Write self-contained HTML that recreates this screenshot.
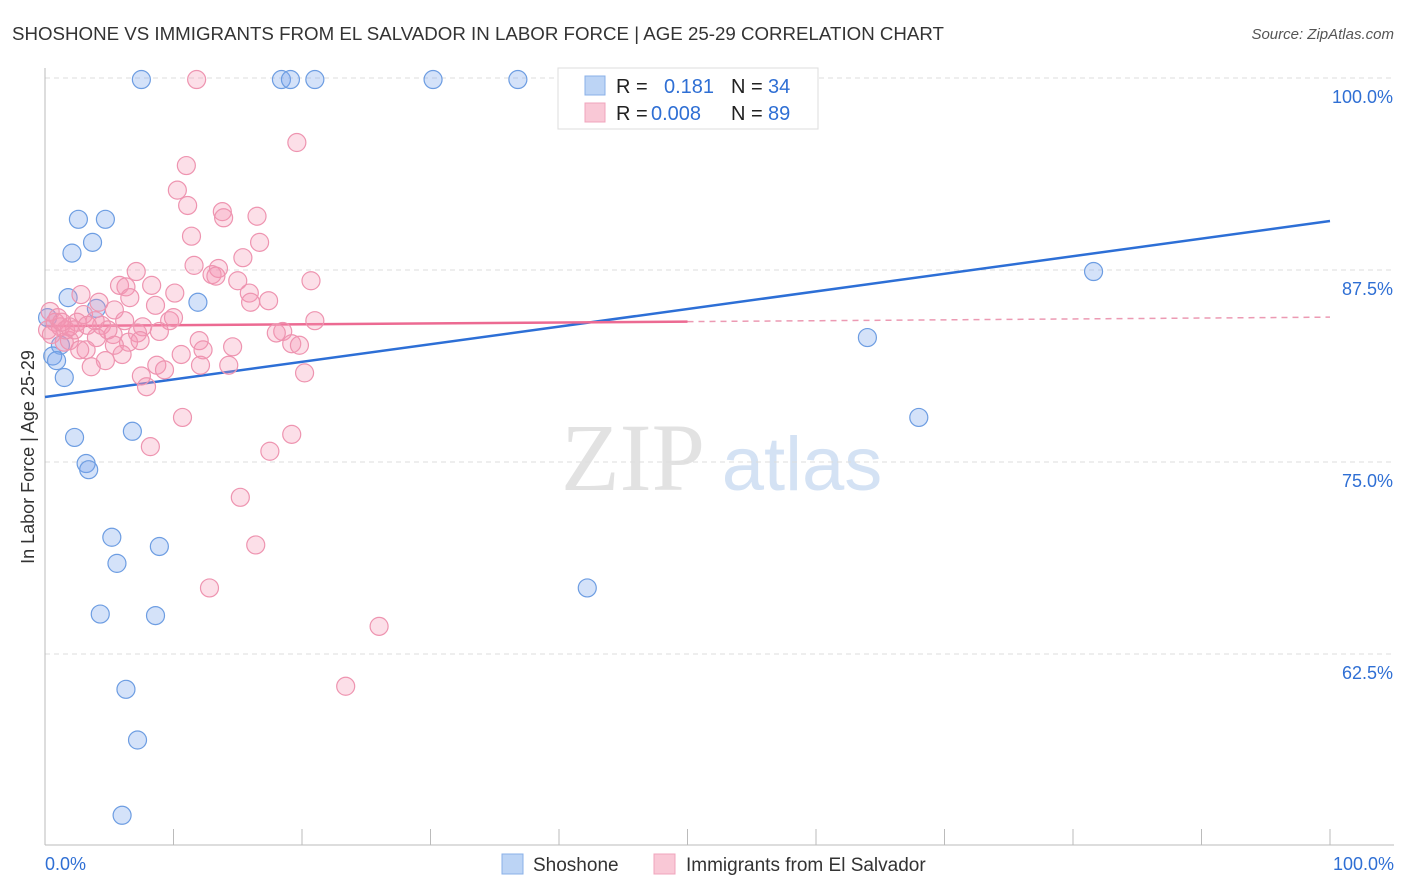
<!DOCTYPE html>
<html><head><meta charset="utf-8"><style>
body{margin:0;background:#fff;font-family:"Liberation Sans",sans-serif}
#wrap{position:relative;width:1406px;height:892px;overflow:hidden}
</style></head><body>
<div id="wrap">
<svg id="svg" width="1406" height="892" xmlns="http://www.w3.org/2000/svg">
<text x="12" y="40" font-size="18" fill="#333" textLength="932" lengthAdjust="spacingAndGlyphs">SHOSHONE VS IMMIGRANTS FROM EL SALVADOR IN LABOR FORCE | AGE 25-29 CORRELATION CHART</text>
<text x="1394" y="39" font-size="15" fill="#555" font-style="italic" text-anchor="end">Source: ZipAtlas.com</text>
<text transform="translate(34,457) rotate(-90)" font-size="18" fill="#333" text-anchor="middle">In Labor Force | Age 25-29</text>
<g><text x="633" y="490" font-size="96" font-family="Liberation Serif,serif" fill="#e2e2e2" text-anchor="middle">ZIP</text><text x="802" y="490" font-size="76" fill="#d4e2f4" text-anchor="middle">atlas</text></g>
<g id="grid"></g><g id="axes"></g><g id="trend"></g><g id="pts"></g>
<g>
<rect x="558" y="68" width="260" height="61" fill="#fff" stroke="#ddd"/>
<rect x="585" y="76" width="20" height="19" fill="#bcd4f5" stroke="#8ab0e8"/>
<rect x="585" y="103" width="20" height="19" fill="#f9c8d6" stroke="#f0a4bc"/>
<text x="616" y="93" font-size="20" fill="#222">R = </text><text x="664" y="93" font-size="20" fill="#2f6fd4">0.181</text>
<text x="731" y="93" font-size="20" fill="#222">N = </text><text x="768" y="93" font-size="20" fill="#2f6fd4">34</text>
<text x="616" y="120" font-size="20" fill="#222">R = </text><text x="651" y="120" font-size="20" fill="#2f6fd4">0.008</text>
<text x="731" y="120" font-size="20" fill="#222">N = </text><text x="768" y="120" font-size="20" fill="#2f6fd4">89</text>
</g>
<g>
<rect x="502" y="854" width="21" height="20" fill="#bcd4f5" stroke="#8ab0e8"/>
<text x="533" y="871" font-size="19" fill="#333">Shoshone</text>
<rect x="654" y="854" width="21" height="20" fill="#f9c8d6" stroke="#f0a4bc"/>
<text x="686" y="871" font-size="19" fill="#333">Immigrants from El Salvador</text>
</g>
</svg></div>
<script>
const yTicks=[100,87.5,75,62.5];
const yTickLabels=["100.0%","87.5%","75.0%","62.5%"];
const xTickLabels=["0.0%","100.0%"];
const blueX=[7.5,18.4,19.1,21.0,30.2,36.8,2.6,4.7,3.7,2.1,1.8,11.9,4.0,0.2,1.2,0.6,0.9,1.5,2.3,6.8,3.2,3.4,5.2,8.9,5.6,4.3,8.6,6.3,7.2,6.0,81.6,64.0,68.0,42.2];
const blueY=[99.9,99.9,99.9,99.9,99.9,99.9,90.8,90.8,89.3,88.6,85.7,85.4,85.0,84.4,82.6,81.9,81.6,80.5,76.6,77.0,74.9,74.5,70.1,69.5,68.4,65.1,65.0,60.2,56.9,52.0,87.4,83.1,77.9,66.8];
const pinkX=[11.8,19.6,11.0,10.3,11.1,13.8,16.5,13.9,11.4,16.7,15.4,7.1,11.6,13.5,13.0,13.3,20.7,15.0,5.8,8.3,6.3,10.1,2.8,15.9,17.4,4.2,16.0,6.6,8.6,5.4,3.0,21.0,6.2,9.7,10.0,4.4,2.5,7.6,18.5,8.9,18.0,7.2,5.3,1.9,12.0,4.0,1.5,6.5,3.2,19.2,19.8,14.6,2.7,12.3,6.0,10.6,4.7,3.6,8.7,9.3,12.1,14.3,20.2,7.5,7.9,10.7,19.2,8.2,17.5,15.2,16.4,12.8,26.0,23.4,0.4,0.8,1.2,0.2,1.6,2.3,1.0,0.5,1.9,4.9,3.9,7.4,5.4,3.3,1.3];
const pinkY=[99.9,95.8,94.3,92.7,91.7,91.3,91.0,90.9,89.7,89.3,88.3,87.4,87.8,87.6,87.2,87.1,86.8,86.8,86.5,86.5,86.4,86.0,85.9,86.0,85.5,85.4,85.4,85.7,85.2,84.9,84.6,84.2,84.2,84.2,84.4,83.9,84.1,83.8,83.5,83.5,83.4,83.4,83.3,82.9,82.9,83.1,82.8,82.8,82.3,82.7,82.6,82.5,82.3,82.3,82.0,82.0,81.6,81.2,81.3,81.0,81.3,81.3,80.8,80.6,79.9,77.9,76.8,76.0,75.7,72.7,69.6,66.8,64.3,60.4,84.8,84.1,83.8,83.6,83.6,83.6,84.4,83.3,83.8,83.6,84.2,82.9,82.6,83.9,84.1];
const blueTrend=[79.23,90.69];
const pinkTrend=[83.85,84.43];
const NS="http://www.w3.org/2000/svg";
const X=v=>45+v*12.85, Y=v=>78+(100-v)*192/12.5;
function mk(t,a,p){const e=document.createElementNS(NS,t);for(const k in a)e.setAttribute(k,a[k]);p.appendChild(e);return e;}
const grid=document.getElementById('grid'),axes=document.getElementById('axes');
yTicks.forEach((t,i)=>{
 const l=mk('line',{x1:45,x2:1394,y1:Y(t),y2:Y(t),stroke:'#ddd','stroke-dasharray':'5,4'},grid);
 
 
 const tx=mk('text',{x:1393,y:Y(t)+25,'font-size':18,fill:'#2f6fd4','text-anchor':'end'},axes);tx.textContent=yTickLabels[i];
 
 
});
mk('line',{x1:45,x2:45,y1:68,y2:845,stroke:'#bbb'},axes);
mk('line',{x1:45,x2:1394,y1:845,y2:845,stroke:'#bbb'},axes);
for(let i=0;i<=10;i++){mk('line',{x1:X(i*10),x2:X(i*10),y1:829,y2:845,stroke:'#bbb'},axes);}
[[0,'start',45],[100,'end',1394]].forEach((d,i)=>{const t=mk('text',{x:d[2],y:870,'font-size':18,fill:'#2f6fd4','text-anchor':d[1]},axes);t.textContent=xTickLabels[i];
 
 });
const pts=document.getElementById('pts');
blueX.forEach((x,i)=>{const c=mk('circle',{cx:X(x),cy:Y(blueY[i]),r:9,fill:'rgba(120,165,235,0.32)',stroke:'#6d9de2','stroke-width':1.2},pts);
 
 });
pinkX.forEach((x,i)=>{const c=mk('circle',{cx:X(x),cy:Y(pinkY[i]),r:9,fill:'rgba(245,150,180,0.3)',stroke:'#ee94b0','stroke-width':1.2},pts);
 
 });
const tr=document.getElementById('trend');
const b=mk('line',{x1:X(0),y1:Y(blueTrend[0]),x2:X(100),y2:Y(blueTrend[1]),stroke:'#2d6fd6','stroke-width':2.5},tr);


const pm=pinkTrend[0]+(pinkTrend[1]-pinkTrend[0])*0.5;
const p1=mk('line',{x1:X(0),y1:Y(pinkTrend[0]),x2:X(50),y2:Y(pm),stroke:'#ec6a92','stroke-width':2.5},tr);


const p2=mk('line',{x1:X(50),y1:Y(pm),x2:X(100),y2:Y(pinkTrend[1]),stroke:'#ec9ab3','stroke-width':1.5,'stroke-dasharray':'6,5'},tr);


</script>
</body></html>
